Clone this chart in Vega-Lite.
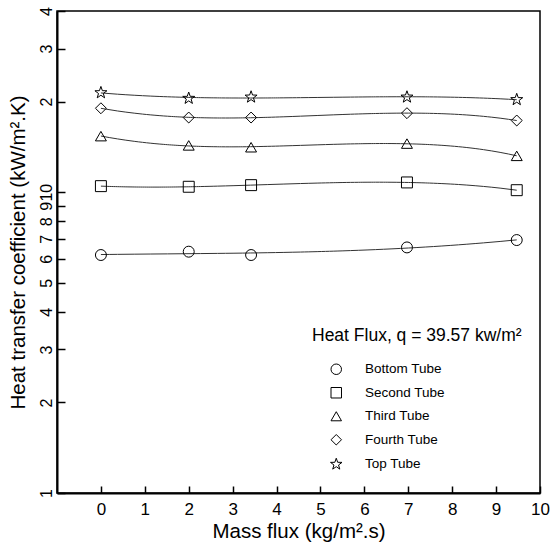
{
  "$schema": "https://vega.github.io/schema/vega-lite/v6.json",
  "width": 483,
  "height": 482,
  "autosize": "none",
  "padding": {"left": 57, "top": 11, "right": 10, "bottom": 59},
  "config": {
    "view": {"stroke": "black", "strokeWidth": 1.5},
    "font": "Liberation Sans",
    "axis": {"grid": false, "domainColor": "black", "domainWidth": 2, "tickColor": "black", "tickWidth": 1.5, "labelColor": "black", "titleColor": "black", "titleFontWeight": "normal", "labelFlush": false, "labelOverlap": false}
  },
  "data": {
    "values": [
      {"mass_flux": 0, "htc": 6.18, "tube": "Bottom Tube"},
      {"mass_flux": 2, "htc": 6.34, "tube": "Bottom Tube"},
      {"mass_flux": 3.42, "htc": 6.18, "tube": "Bottom Tube"},
      {"mass_flux": 6.97, "htc": 6.55, "tube": "Bottom Tube"},
      {"mass_flux": 9.47, "htc": 6.93, "tube": "Bottom Tube"},
      {"mass_flux": 0, "htc": 10.47, "tube": "Second Tube"},
      {"mass_flux": 2, "htc": 10.42, "tube": "Second Tube"},
      {"mass_flux": 3.42, "htc": 10.55, "tube": "Second Tube"},
      {"mass_flux": 6.97, "htc": 10.77, "tube": "Second Tube"},
      {"mass_flux": 9.47, "htc": 10.15, "tube": "Second Tube"},
      {"mass_flux": 0, "htc": 15.35, "tube": "Third Tube"},
      {"mass_flux": 2, "htc": 14.3, "tube": "Third Tube"},
      {"mass_flux": 3.42, "htc": 14.1, "tube": "Third Tube"},
      {"mass_flux": 6.97, "htc": 14.5, "tube": "Third Tube"},
      {"mass_flux": 9.47, "htc": 13.2, "tube": "Third Tube"},
      {"mass_flux": 0, "htc": 19.0, "tube": "Fourth Tube"},
      {"mass_flux": 2, "htc": 17.7, "tube": "Fourth Tube"},
      {"mass_flux": 3.42, "htc": 17.7, "tube": "Fourth Tube"},
      {"mass_flux": 6.97, "htc": 18.3, "tube": "Fourth Tube"},
      {"mass_flux": 9.47, "htc": 17.3, "tube": "Fourth Tube"},
      {"mass_flux": 0, "htc": 21.4, "tube": "Top Tube"},
      {"mass_flux": 2, "htc": 20.5, "tube": "Top Tube"},
      {"mass_flux": 3.42, "htc": 20.7, "tube": "Top Tube"},
      {"mass_flux": 6.97, "htc": 20.7, "tube": "Top Tube"},
      {"mass_flux": 9.47, "htc": 20.3, "tube": "Top Tube"}
    ]
  },
  "encoding": {
    "x": {
      "field": "mass_flux", "type": "quantitative",
      "scale": {"domain": [-1, 10], "nice": false, "zero": false},
      "axis": {"values": [0,1,2,3,4,5,6,7,8,9,10], "tickSize": -7, "labelPadding": 15, "labelFontSize": 17, "title": "Mass flux (kg/m².s)", "titleFontSize": 20.5, "titlePadding": 4}
    },
    "y": {
      "field": "htc", "type": "quantitative",
      "scale": {"type": "log", "domain": [1, 40], "nice": false},
      "axis": {"values": [1,2,3,4,5,6,7,8,9,10,20,30,40], "labelExpr": "datum.value >= 20 ? format(datum.value/10, 'd') : format(datum.value, 'd')", "labelAngle": -90, "labelAlign": "center", "labelBaseline": "bottom", "tickSize": -8, "labelPadding": 11, "labelFontSize": 16, "title": "Heat transfer coefficient (kW/m².K)", "titleFontSize": 20.5, "titlePadding": 10}
    }
  },
  "layer": [
    {
      "transform": [{"regression": "htc", "on": "mass_flux", "groupby": ["tube"], "method": "poly", "order": 3}],
      "mark": {"type": "line", "color": "#333333", "strokeWidth": 1},
      "encoding": {"detail": {"field": "tube", "type": "nominal"}}
    },
    {
      "mark": {"type": "point", "filled": false, "color": "black", "size": 120, "strokeWidth": 1, "opacity": 1},
      "encoding": {
        "shape": {
          "field": "tube", "type": "nominal",
          "scale": {"domain": ["Bottom Tube", "Second Tube", "Third Tube", "Fourth Tube", "Top Tube"], "range": ["circle", "square", "triangle-up", "diamond", "M0,-1.15L0.27,-0.373L1.094,-0.355L0.437,0.143L0.676,0.93L0,0.46L-0.676,0.93L-0.437,0.143L-1.094,-0.355L-0.27,-0.373Z"]},
          "legend": {"orient": "none", "legendX": 255, "legendY": 316, "title": "Heat Flux, q = 39.57 kw/m²", "titleLimit": 400, "titleFontSize": 17.5, "titleFontWeight": "normal", "titleColor": "black", "labelFontSize": 13.5, "labelColor": "black", "symbolSize": 110, "symbolStrokeColor": "black", "symbolFillColor": "transparent", "symbolStrokeWidth": 1, "symbolOffset": 17.5, "labelOffset": 22, "rowPadding": 8.5, "titlePadding": 18, "padding": 0}
        }
      }
    }
  ]
}
